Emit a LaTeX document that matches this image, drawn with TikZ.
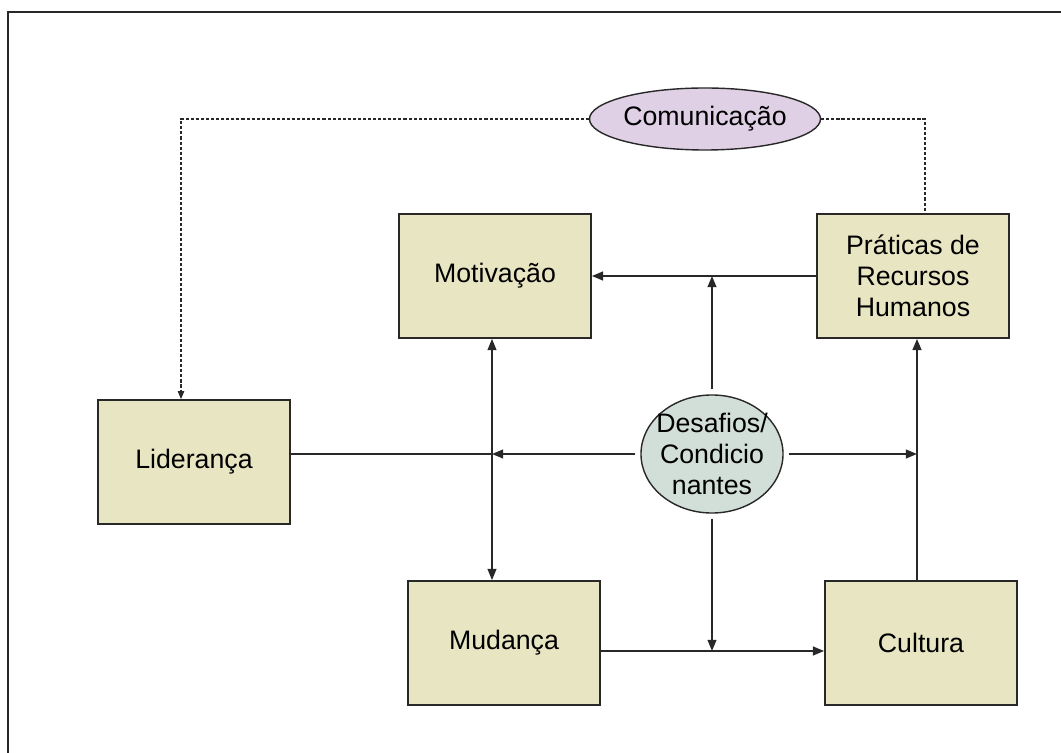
\documentclass[tikz,border=0pt]{standalone}
\usepackage{fontspec}
\setmainfont{Liberation Sans}
\usepackage{xcolor}
\usetikzlibrary{shapes.geometric, arrows.meta, positioning, calc}
\definecolor{cBox}{RGB}{232,230,194}
\definecolor{cLilac}{RGB}{224,208,230}
\definecolor{cSage}{RGB}{210,222,216}
\definecolor{cLine}{RGB}{40,40,40}
\tikzset{
	fator/.style    ={rectangle, draw=cLine, line width=1.2pt, fill=cBox, minimum width=4.8cm, minimum height=3.1cm, text centered, align=center},
	comm/.style     ={ellipse, draw=cLine, line width=1pt, fill=cLilac, minimum width=5.6cm, minimum height=1.55cm, inner sep=0pt},
	desaf/.style    ={ellipse, draw=cLine, line width=1pt, fill=cSage, minimum width=3.55cm, minimum height=2.95cm, inner sep=0pt, outer sep=4pt},
	sig/.style      ={-{Triangle[length=2.8mm, width=2.2mm]}, line width=1.3pt, draw=cLine},
	dsig/.style     ={{Triangle[length=2.8mm, width=2.2mm]}-{Triangle[length=2.8mm, width=2.2mm]}, line width=1pt, draw=cLine},
	plain/.style    ={line width=1.3pt, draw=cLine},
	dashlink/.style ={line width=0.8pt, draw=cLine, dash pattern=on 2.2pt off 1.4pt},
}

\begin{document}
\begin{tikzpicture}[x=0.025cm, y=-0.025cm, font=\fontsize{19}{22}\selectfont]
	\useasboundingbox (0,0) rectangle (1061,753);
	% frame (only top and left edges show)
	\draw[line width=1.1pt, cLine] (1061,12) -- (8,12) -- (8,753);
	% factors
	\node[comm] (com) at (705,119) {Comunicação};
	\node[fator] (mot) at (495,276) {Motivação};
	\node[fator] (pra) at (913,276) {Práticas de\\ Recursos\\ Humanos};
	\node[fator] (lid) at (194,462) {Liderança};
	\node[fator] (mud) at (504,643) {Mudança};
	\node[fator] (cul) at (921,643) {Cultura};
	\node[desaf] (des) at (712,454) {};
	\node[align=center] (desTxt) at (des.center) {Desafios/\\ Condicio\\ nantes};
	% junction points on the cross lines
	\coordinate (vMot) at ($(mot.south)+(-3,0)$);
	\coordinate (vCul) at ($(cul.north)+(-4,0)$);
	\coordinate (hMud) at ($(mud.east)+(0,8)$);
	% communication (dashed)
	\draw[dashlink, -{Triangle[length=2mm, width=1.6mm]}] (com.west) -| ($(lid.north)+(-13,0)$);
	\draw[dashlink] (com.east) -| ($(pra.north)+(12,0)$);
	% main links
	\draw[sig] (pra.west) -- (mot.east);
	\draw[dsig] (vMot) -- (vMot |- mud.north);
	\draw[sig] (vCul) -- (vCul |- pra.south);
	\draw[sig] (hMud) -- (hMud -| cul.west);
	% from Desafios/Condicionantes
	\draw[sig] (des.north) -- (des.north |- mot.east);
	\draw[sig] (des.south) -- (des.south |- hMud);
	\draw[sig] (des.east) -- (des.east -| vCul);
	\draw[sig] (des.west) -- (des.west -| vMot);
	\draw[plain] (des.west -| vMot) -- (des.west -| lid.east);
\end{tikzpicture}
\end{document}
